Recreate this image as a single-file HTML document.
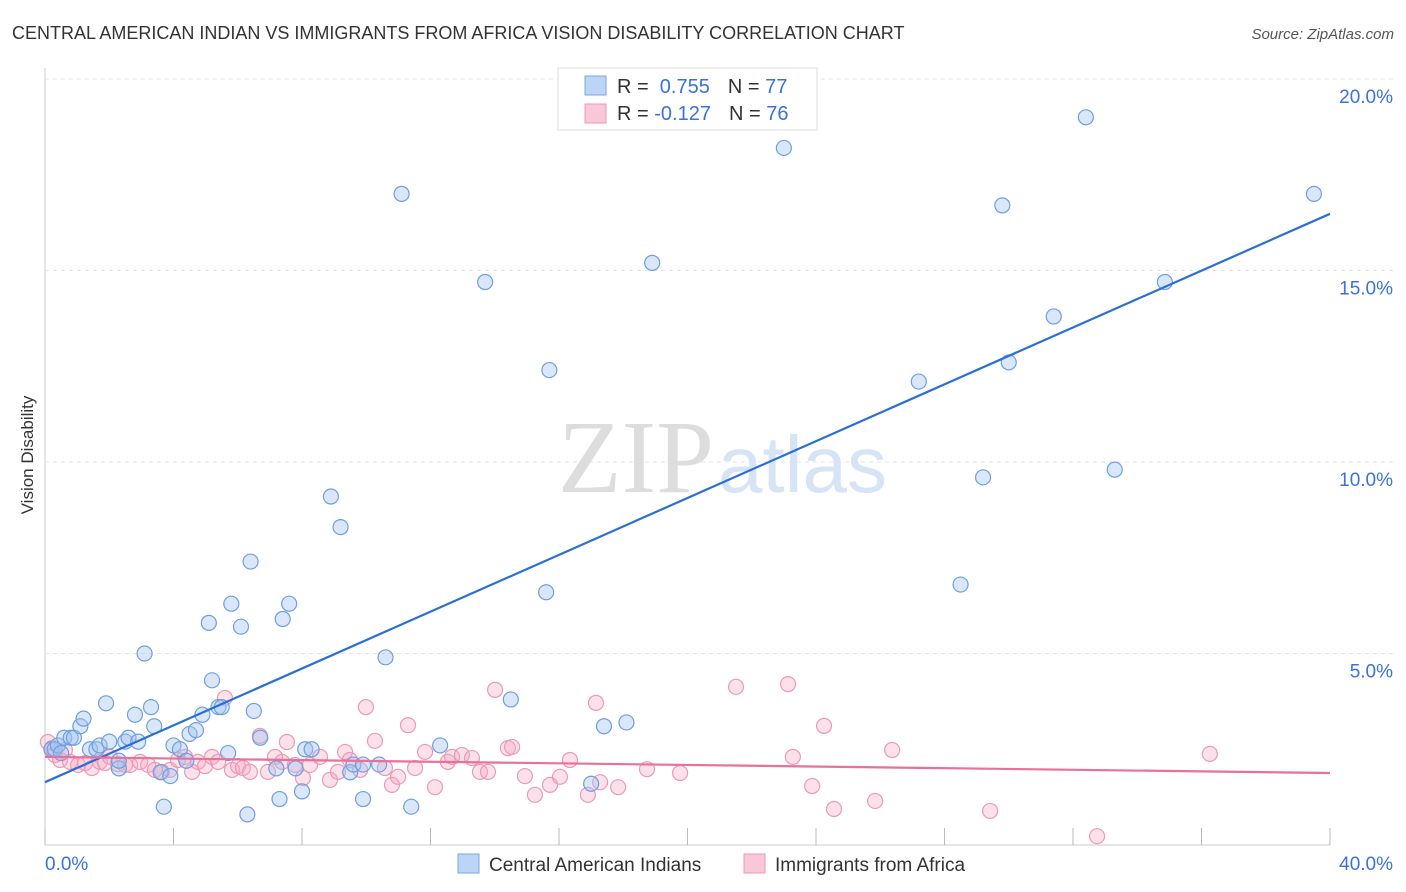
<!DOCTYPE html>
<html><head><meta charset="utf-8"><style>
body{margin:0;width:1406px;height:892px;background:#fff;font-family:"Liberation Sans",sans-serif;overflow:hidden}
svg{position:absolute;left:0;top:0}
</style></head><body>
<svg width="1406" height="892">
<text x="12" y="39" font-size="18" fill="#333">CENTRAL AMERICAN INDIAN VS IMMIGRANTS FROM AFRICA VISION DISABILITY CORRELATION CHART</text>
<text x="1394" y="39" font-size="15" fill="#555" font-style="italic" text-anchor="end">Source: ZipAtlas.com</text>
<text x="33" y="455" font-size="17" fill="#333" transform="rotate(-90 33 455)" text-anchor="middle">Vision Disability</text>
<g id="grid"></g>
<text x="714" y="492" font-size="104" fill="#ddd" font-family="Liberation Serif" text-anchor="end">ZIP</text>
<text x="718" y="492" font-size="80" fill="#d6e4f5">atlas</text>
<g id="pts"></g>
<g id="lines"></g>
<g>
<rect x="558" y="68" width="259" height="62" fill="#fff" stroke="#ddd"/>
<rect x="585" y="76" width="21" height="19" fill="#bcd4f5" stroke="#7aa6e0"/>
<rect x="585" y="104" width="21" height="19" fill="#f9c8d7" stroke="#eb9ab4"/>
<text x="617" y="93" font-size="20" fill="#333">R = <tspan fill="#3a72d8">&#160;0.755</tspan><tspan dx="18">N = </tspan><tspan fill="#3a72d8">77</tspan></text>
<text x="617" y="120" font-size="20" fill="#333">R = <tspan fill="#3a72d8">-0.127</tspan><tspan dx="18">N = </tspan><tspan fill="#3a72d8">76</tspan></text>
</g>
<text x="45" y="870" font-size="19" fill="#3a72d8">0.0%</text>
<text x="1393" y="870" font-size="19" fill="#3a72d8" text-anchor="end">40.0%</text>
<g>
<rect x="458" y="854" width="21" height="19" fill="#bcd4f5" stroke="#7aa6e0"/>
<text x="489" y="871" font-size="19" fill="#333">Central American Indians</text>
<rect x="744" y="854" width="21" height="19" fill="#f9c8d7" stroke="#eb9ab4"/>
<text x="775" y="871" font-size="19" fill="#333">Immigrants from Africa</text>
</g>
</svg>
<script>
const yTicks=[5,10,15,20];
const xTickVals=[0,4,8,12,16,20,24,28,32,36,40];
const blueX=[0.2,0.3,0.4,0.5,0.6,0.8,0.9,1.1,1.2,1.4,1.6,1.7,1.9,2.0,2.3,2.3,2.5,2.6,2.8,2.9,3.1,3.3,3.4,3.6,3.7,3.9,4.0,4.2,4.4,4.5,4.7,4.9,5.1,5.2,5.4,5.5,5.7,5.8,6.1,6.3,6.4,6.5,6.7,7.2,7.3,7.4,7.6,7.8,8.0,8.1,8.3,8.9,9.2,9.5,9.6,9.9,9.9,10.4,10.6,11.1,11.4,12.3,13.7,14.5,15.6,15.7,17.0,17.4,18.1,18.9,23.0,27.2,28.5,29.2,29.8,30.0,31.4,32.4,33.3,34.86,39.5];
const blueY=[2.5,2.5,2.6,2.4,2.8,2.8,2.8,3.1,3.3,2.5,2.5,2.6,3.7,2.7,2.0,2.2,2.7,2.8,3.4,2.7,5.0,3.6,3.1,1.9,1.0,1.8,2.6,2.5,2.2,2.9,3.0,3.4,5.8,4.3,3.6,3.6,2.4,6.3,5.7,0.8,7.4,3.5,2.8,2.0,1.2,5.9,6.3,2.0,1.4,2.5,2.5,9.1,8.3,1.9,2.1,2.1,1.2,2.1,4.9,17.0,1.0,2.6,14.7,3.8,6.6,12.4,1.6,3.1,3.2,15.2,18.2,12.1,6.8,9.6,16.7,12.6,13.8,19.0,9.8,14.7,17.0];
const pinkX=[0.09,0.22,0.31,0.47,0.62,0.78,1.03,1.25,1.46,1.71,1.87,2.02,2.27,2.49,2.65,2.96,3.21,3.42,3.64,3.89,4.14,4.36,4.58,4.76,4.98,5.20,5.39,5.60,5.82,6.01,6.16,6.38,6.69,6.94,7.16,7.38,7.53,7.78,8.03,8.25,8.56,8.87,9.12,9.34,9.49,9.81,9.99,10.27,10.58,10.80,10.99,11.30,11.52,11.83,12.14,12.54,12.67,12.98,13.29,13.54,13.79,14.01,14.41,14.54,14.94,15.25,15.72,16.03,16.34,16.90,17.15,17.28,17.84,18.74,19.77,21.51,23.13,23.28,23.88,24.25,24.56,25.84,26.37,29.42,32.75,36.26];
const pinkY=[2.69,2.53,2.35,2.22,2.48,2.17,2.09,2.14,2.01,2.17,2.14,2.30,2.11,2.09,2.09,2.17,2.09,1.96,1.91,1.96,2.22,2.30,1.91,2.17,2.06,2.30,2.17,3.84,1.96,2.06,2.01,1.91,2.85,1.91,2.30,2.17,2.69,2.09,1.75,2.09,2.30,1.70,1.91,2.43,2.22,1.96,3.60,2.72,2.01,1.57,1.78,3.13,2.01,2.43,1.51,2.17,2.30,2.35,2.27,1.91,1.91,4.05,2.53,2.56,1.80,1.31,1.57,1.78,2.22,1.31,3.71,1.64,1.51,1.98,1.88,4.13,4.20,2.30,1.54,3.11,0.94,1.15,2.48,0.89,0.23,2.38];
const blueLine=[1.64,16.48];
const pinkLine=[2.3,1.88];
const NS='http://www.w3.org/2000/svg';
const X=v=>45+v*32.125, Y=v=>845-v*38.3;
function mk(t,a,p){const e=document.createElementNS(NS,t);for(const k in a)e.setAttribute(k,a[k]);p.appendChild(e);return e;}
const g=document.getElementById('grid');
mk('line',{x1:45,y1:68,x2:45,y2:845,stroke:'#ccc'},g);
mk('line',{x1:45,y1:845,x2:1330,y2:845,stroke:'#ccc'},g);
yTicks.forEach(v=>{
 const l=mk('line',{x1:45,y1:Y(v),x2:1395,y2:Y(v),stroke:'#e4e4e4','stroke-dasharray':'4,4'},g);
 
 
 const t=mk('text',{x:1393,y:Y(v)+24,'font-size':19,fill:'#3a72d8','text-anchor':'end'},g);
 t.textContent=v.toFixed(1)+'%';
 
 
});
xTickVals.forEach(v=>{
 const l=mk('line',{x1:X(v),y1:828,x2:X(v),y2:845,stroke:'#bbb'},g);
 
 
});
const p=document.getElementById('pts');
pinkX.forEach((x,i)=>{
 const c=mk('circle',{cx:X(x),cy:Y(pinkY[i]),r:7.5,fill:'rgba(246,170,195,0.35)',stroke:'#eb9ab4','stroke-width':1.2},p);
 
 
});
blueX.forEach((x,i)=>{
 const c=mk('circle',{cx:X(x),cy:Y(blueY[i]),r:7.5,fill:'rgba(160,195,240,0.4)',stroke:'#6e9fe0','stroke-width':1.2},p);
 
 
});
const L=document.getElementById('lines');
const bl=mk('line',{x1:X(0),y1:Y(blueLine[0]),x2:X(40),y2:Y(blueLine[1]),stroke:'#2a6fd6','stroke-width':2.2},L);


const pl=mk('line',{x1:X(0),y1:Y(pinkLine[0]),x2:X(40),y2:Y(pinkLine[1]),stroke:'#e8709a','stroke-width':2.2},L);


</script>
</body></html>
